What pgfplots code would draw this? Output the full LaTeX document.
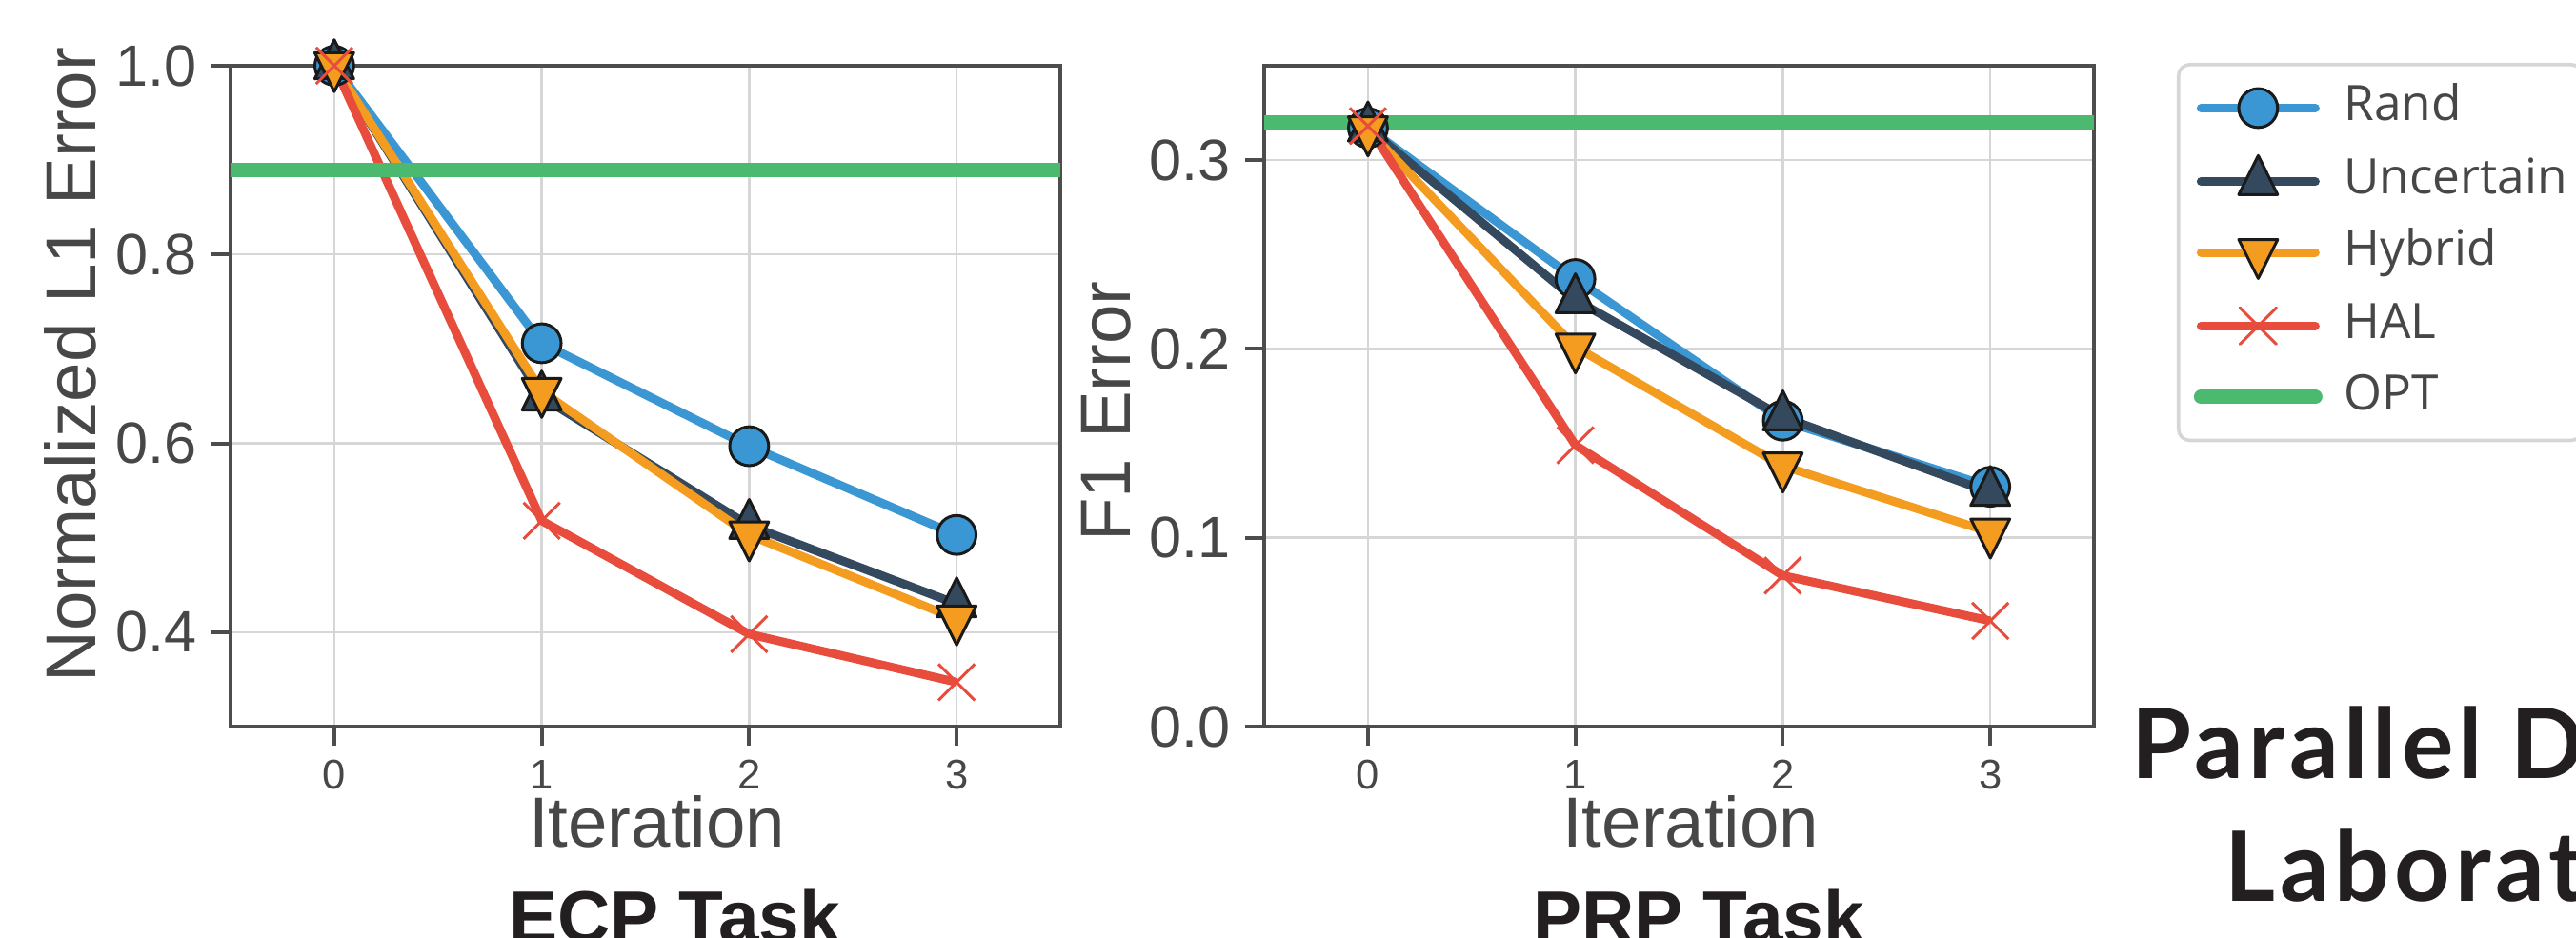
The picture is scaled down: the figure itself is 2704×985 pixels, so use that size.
\documentclass[border=0pt]{standalone}
\usepackage{fontspec}
\setmainfont{Liberation Sans}
\newfontfamily\legfont{Open Sans}
\newfontfamily\labfont{Lato}[LetterSpace=5]
\usepackage{pgfplots}
\pgfplotsset{compat=1.18}

\definecolor{cRand}{HTML}{3B97D3}
\definecolor{cUnc}{HTML}{34495E}
\definecolor{cHyb}{HTML}{F39C1F}
\definecolor{cHAL}{HTML}{E74C3C}
\definecolor{cOPT}{HTML}{4BB96E}
\definecolor{framegray}{HTML}{4D4D4D}
\definecolor{gridgray}{HTML}{D6D6D6}
\definecolor{labgray}{HTML}{474747}
\definecolor{mkedge}{HTML}{1A1A1A}
\definecolor{titleblack}{HTML}{231F20}

\pgfplotsset{
  panel/.style={
    scale only axis, width=43.55mm, height=34.7mm,
    xmin=-0.5, xmax=3.5,
    xtick={0,1,2,3}, xticklabels={0,1,2,3},
    grid=major, grid style={color=gridgray, line width=0.12mm},
    axis line style={color=framegray, line width=0.2mm},
    tick align=outside, tick pos=left, major tick length=1mm,
    tick style={color=framegray, line width=0.2mm},
    xticklabel style={font=\fontsize{6.2}{7}\selectfont, text=labgray, inner sep=0pt, yshift=-0.7mm},
    yticklabel style={font=\fontsize{8.7}{10}\selectfont, text=labgray, inner sep=0pt, xshift=-0.7mm},
    label style={font=\fontsize{10.6}{12}\selectfont, text=labgray},
    xlabel={Iteration},
    xlabel style={at={(axis description cs:0.514,-0.183)}, anchor=base},
    clip=false,
  },
  srand/.style={color=cRand, line width=0.45mm, line join=round, mark=*, mark size=1.02mm,
    mark options={draw=mkedge, fill=cRand, line width=0.15mm}},
  sunc/.style={color=cUnc, line width=0.45mm, line join=round, mark=triangle*, mark size=1.18mm,
    mark options={draw=mkedge, fill=cUnc, line width=0.15mm, yscale=1.155}},
  shyb/.style={color=cHyb, line width=0.45mm, line join=round, mark=triangle*, mark size=1.18mm,
    mark options={draw=mkedge, fill=cHyb, line width=0.15mm, yscale=-1.155}},
  shal/.style={color=cHAL, line width=0.45mm, line join=round, mark=x, mark size=1.35mm,
    mark options={line width=0.15mm}},
  sopt/.style={color=cOPT, line width=0.75mm, no marks},
}

\begin{document}
\begin{tikzpicture}[x=0.05mm, y=0.05mm]
\useasboundingbox (0,0) rectangle (2704,985);
\clip (0,0) rectangle (2704,985);

% ECP panel
\begin{axis}[panel, at={(12.1mm,11.1mm)}, anchor=south west,
    ymin=0.3, ymax=1.0,
    ytick={0.4,0.6,0.8,1.0}, yticklabels={0.4,0.6,0.8,1.0},
    ylabel={Normalized L1 Error},
    ylabel style={at={(axis description cs:-0.163,0.5476)}, anchor=base}]
  \addplot[srand] coordinates {(0,1.0) (1,0.706) (2,0.597) (3,0.503)};
  \addplot[sunc] coordinates {(0,1.0) (1,0.649) (2,0.513) (3,0.430)};
  \addplot[shyb] coordinates {(0,1.0) (1,0.655) (2,0.503) (3,0.414)};
  \addplot[shal] coordinates {(0,1.0) (1,0.518) (2,0.398) (3,0.347)};
  \addplot[sopt] coordinates {(-0.5,0.89) (3.5,0.89)};
  \node[anchor=base, font=\bfseries\fontsize{10.9}{12}\selectfont, text=titleblack]
    at (axis description cs:0.535,-0.3257) {ECP Task};
\end{axis}

% PRP panel
\begin{axis}[panel, at={(66.35mm,11.1mm)}, anchor=south west,
    ymin=0, ymax=0.35,
    ytick={0,0.1,0.2,0.3}, yticklabels={0.0,0.1,0.2,0.3},
    ylabel={F1 Error},
    ylabel style={at={(axis description cs:-0.1615,0.477)}, anchor=base},
    legend style={at={(axis description cs:1.0997,1.0043)}, anchor=north west,
      draw=gridgray, line width=0.18mm, rounded corners=0.6mm,
      inner xsep=2.3pt, inner ysep=3pt, row sep=3.6pt, column sep=3.2pt,
      font=\legfont\fontsize{7.3}{9}\selectfont, text=labgray,
      nodes={inner sep=0pt, text height=5.4pt, text depth=1.6pt}},
    legend cell align=left,
    legend image post style={line cap=round}]
  \addplot[srand] coordinates {(0,0.317) (1,0.237) (2,0.162) (3,0.127)};
  \addplot[sunc] coordinates {(0,0.317) (1,0.226) (2,0.164) (3,0.124)};
  \addplot[shyb] coordinates {(0,0.316) (1,0.201) (2,0.138) (3,0.103)};
  \addplot[shal] coordinates {(0,0.318) (1,0.149) (2,0.080) (3,0.056)};
  \addplot[sopt] coordinates {(-0.5,0.320) (3.5,0.320)};
  \legend{Rand,Uncertain,Hybrid,HAL,OPT}
  \node[anchor=base, font=\bfseries\fontsize{10.9}{12}\selectfont, text=titleblack]
    at (axis description cs:0.5235,-0.3257) {PRP Task};
\end{axis}

% logo text, cut by the right edge as in the source
\node[anchor=base west, inner sep=0pt, font=\labfont\bfseries\fontsize{14.5}{16}\selectfont, text=titleblack]
  at (2236,167) {Parallel Data};
\node[anchor=base west, inner sep=0pt, font=\labfont\bfseries\fontsize{14.5}{16}\selectfont, text=titleblack]
  at (2334,38) {Laboratory};
\end{tikzpicture}
\end{document}
